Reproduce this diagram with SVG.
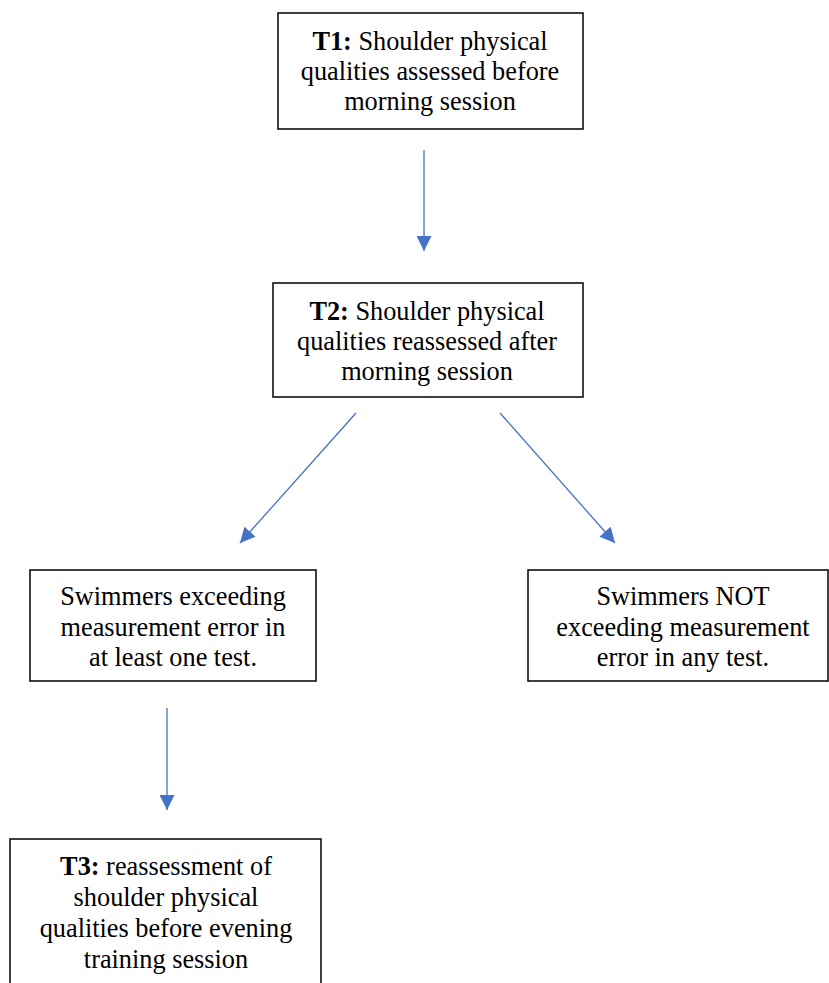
<svg xmlns="http://www.w3.org/2000/svg" width="829" height="983" viewBox="0 0 829 983">
  <style>
    .box { fill: #ffffff; stroke: #000000; stroke-width: 1.5; }
    .txt { font-family: "Liberation Serif", "DejaVu Serif", serif; font-size: 26.3px; fill: #000000; text-anchor: middle; }
    .b { font-weight: bold; }
    .conn { stroke: #4472C4; stroke-width: 1.3; fill: none; marker-end: url(#head); }
  </style>
  <defs>
    <marker id="head" viewBox="0 0 10 10" refX="10" refY="5" markerUnits="userSpaceOnUse" markerWidth="17" markerHeight="15" orient="auto">
      <path d="M0,0 L10,5 L0,10 Z" fill="#4472C4"/>
    </marker>
  </defs>

  <rect width="829" height="983" fill="#ffffff"/>

  <g id="connectors">
    <line class="conn" x1="424" y1="150" x2="424" y2="251"/>
    <line class="conn" x1="356" y1="413" x2="240" y2="543"/>
    <line class="conn" x1="500" y1="413" x2="615" y2="543"/>
    <line class="conn" x1="167" y1="708" x2="167" y2="810"/>
  </g>

  <g id="t1">
    <rect class="box" x="278" y="13" width="305" height="116"/>
    <text class="txt" x="430" y="50"><tspan class="b">T1:</tspan> Shoulder physical</text>
    <text class="txt" x="430" y="80">qualities assessed before</text>
    <text class="txt" x="430" y="110">morning session</text>
  </g>

  <g id="t2">
    <rect class="box" x="273" y="283" width="310" height="114"/>
    <text class="txt" x="427" y="320"><tspan class="b">T2:</tspan> Shoulder physical</text>
    <text class="txt" x="427" y="350">qualities reassessed after</text>
    <text class="txt" x="427" y="380">morning session</text>
  </g>

  <g id="exceeding">
    <rect class="box" x="30" y="570" width="286" height="111"/>
    <text class="txt" x="173" y="605">Swimmers exceeding</text>
    <text class="txt" x="173" y="636">measurement error in</text>
    <text class="txt" x="173" y="666">at least one test.</text>
  </g>

  <g id="not-exceeding">
    <rect class="box" x="528" y="570" width="300" height="111"/>
    <text class="txt" x="683" y="605">Swimmers NOT</text>
    <text class="txt" x="683" y="636">exceeding measurement</text>
    <text class="txt" x="683" y="666">error in any test.</text>
  </g>

  <g id="t3">
    <rect class="box" x="10" y="839" width="311" height="160"/>
    <text class="txt" x="166" y="875"><tspan class="b">T3:</tspan> reassessment of</text>
    <text class="txt" x="166" y="906">shoulder physical</text>
    <text class="txt" x="166" y="937">qualities before evening</text>
    <text class="txt" x="166" y="968">training session</text>
  </g>
</svg>
